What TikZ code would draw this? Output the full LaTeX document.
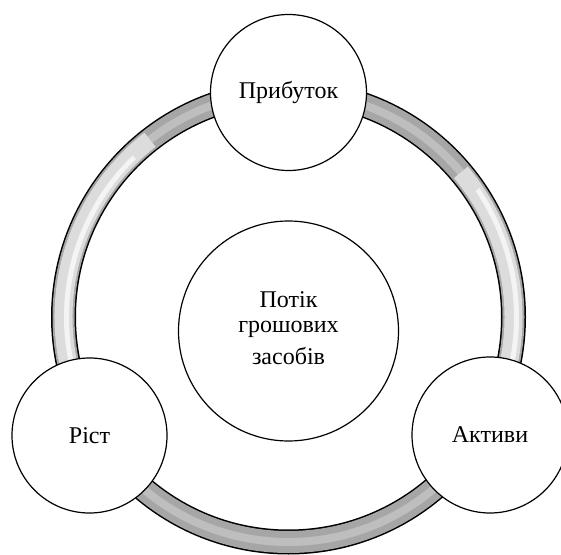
\documentclass[tikz,border=0pt]{standalone}
\usepackage{fontspec}
\setmainfont{Liberation Serif}
\definecolor{ringmid}{HTML}{A6A6A6}
\definecolor{ringcore}{HTML}{BEBEBE}
\definecolor{ringlight}{HTML}{DCDCDC}
\definecolor{ringhi}{HTML}{F4F4F4}
\begin{document}
\begin{tikzpicture}[x=1pt,y=1pt,
  bubble/.style={circle, draw=black, line width=1.2pt, fill=white, inner sep=0pt,
    font=\fontsize{24}{25}\selectfont, align=center},
  ringedge/.style={line width=25pt, black},
  ringbase/.style={line width=22pt, ringmid},
  ringstripe/.style={line width=8pt, ringcore},
  ringpale/.style={line width=18pt, ringlight},
  ringshine/.style={line width=5pt, ringhi}]
\useasboundingbox (0,0) rectangle (561,554);
\clip (0,0) rectangle (561,554);
\coordinate (c) at (288.5,237);
% ring
\draw[ringedge] (c) circle[radius=225pt];
\draw[ringbase] (c) circle[radius=225pt];
\draw[ringstripe] (c) circle[radius=225pt];
\draw[ringpale] (c) ++(128:225pt) arc[start angle=128, end angle=200, radius=225pt];
\draw[ringpale] (c) ++(-18:225pt) arc[start angle=-18, end angle=40, radius=225pt];
\draw[ringshine] (c) ++(134:222pt) arc[start angle=134, end angle=195, radius=222pt];
\draw[ringshine] (c) ++(-12:228pt) arc[start angle=-12, end angle=34, radius=228pt];
% circles
\node[bubble, minimum size=220pt] (flow) at (288.5,223)
  {\raisebox{9pt}{\begin{tabular}{@{}c@{}}Потік\\грошових\\[7pt]засобів\end{tabular}}};
\node[bubble, minimum size=156pt] (profit) at (288.5,461.5) {Прибуток};
\node[bubble, minimum size=155pt] (growth) at (89.5,118.5) {Ріст};
\node[bubble, minimum size=156pt] (assets) at (490,119) {Активи};
\end{tikzpicture}
\end{document}
